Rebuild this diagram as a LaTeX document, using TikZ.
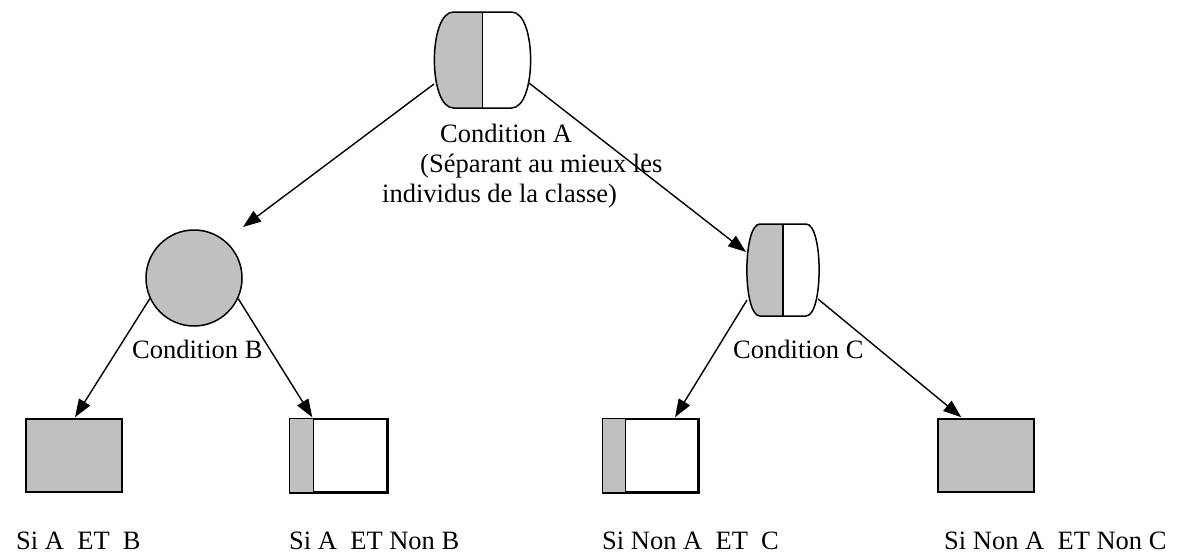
\documentclass[tikz,border=0pt]{standalone}
\usepackage{fontspec}
\setmainfont{Liberation Serif}
\usetikzlibrary{arrows.meta,calc}
\definecolor{cgray}{HTML}{C0C0C0}
\begin{document}
\begin{tikzpicture}[x=1pt,y=-1pt,
  lbl/.style={inner sep=0pt,anchor=base west,font=\fontsize{26.5}{30}\selectfont},
  holder/.style={draw=none,inner sep=0pt},
  outl/.style={line width=1.5pt},
  arr/.style={line width=1.4pt,-{Triangle[length=18pt,width=13pt]}},
  boxg/.style={draw,line width=1.5pt,fill=cgray,inner sep=0pt,minimum width=96pt,minimum height=73pt},
  boxw/.style={draw,line width=1.5pt,fill=white,inner sep=0pt,minimum width=96pt,minimum height=73pt}]
\useasboundingbox (0,0) rectangle (1183,554);

% ---- placeholder nodes
\node[holder,minimum width=97pt,minimum height=96pt] (A) at (482.5,60) {};
\node[holder,minimum width=72pt,minimum height=92pt] (C) at (783,270) {};
\node[circle,draw,outl,fill=cgray,minimum size=96pt,inner sep=0pt] (B) at (194,278) {};

% ---- barrel A
\fill[cgray] (482.5,12) -- (453.5,12) .. controls (428,12) and (428,108) .. (453.5,108) -- (482.5,108) -- cycle;
\draw[outl] (453.5,12) -- (511.5,12) .. controls (537,12) and (537,108) .. (511.5,108)
  -- (453.5,108) .. controls (428,108) and (428,12) .. (453.5,12) -- cycle;
\draw[outl] (A.north) -- (A.south);

% ---- barrel C
\fill[cgray] (783,224) -- (760,224) .. controls (742.5,224) and (742.5,316) .. (760,316) -- (783,316) -- cycle;
\draw[outl] (760,224) -- (806,224) .. controls (823.5,224) and (823.5,316) .. (806,316)
  -- (760,316) .. controls (742.5,316) and (742.5,224) .. (760,224) -- cycle;
\draw[outl] (C.north) -- (C.south);

% ---- leaf boxes
\node[boxg] (b1) at (74,455.5) {};
\node[boxw,minimum width=97pt] (b2) at (338.5,455.5) {};
\fill[cgray] (b2.north west) rectangle ($(b2.south west)+(24,0)$);
\draw[outl] (b2.north west) rectangle (b2.south east);
\draw[outl] ($(b2.north west)+(24,0)$) -- ($(b2.south west)+(24,0)$);
\node[boxw,minimum width=95pt] (b3) at (650.5,455.5) {};
\fill[cgray] (b3.north west) rectangle ($(b3.south west)+(23,0)$);
\draw[outl] (b3.north west) rectangle (b3.south east);
\draw[outl] ($(b3.north west)+(23,0)$) -- ($(b3.south west)+(23,0)$);
\node[boxg] (b4) at (986,455.5) {};

% ---- connectors
\draw[arr] ($(A.center)+(-48.5,24)$) -- ($(B.center)+(49,-51)$);
\draw[arr] ($(A.center)+(46.5,23)$) -- ($(C.center)+(-37,-18)$);
\draw[arr] (B.205) -- ($(b1.north)+(1,-1)$);
\draw[arr] (B.335) -- ($(b2.north west)+(23,-1)$);
\draw[arr] ($(C.center)+(-36,30)$) -- ($(b3.north)+(24.5,-1)$);
\draw[arr] ($(C.center)+(35,29)$) -- ($(b4.north west)+(24,-1)$);

% ---- labels
\node[lbl] (lA1) at (440,142) {Condition A};
\node[lbl] (lA2) at (420,172) {(Séparant au mieux les};
\node[lbl] (lA3) at (382,202) {individus de la classe)};
\node[lbl] (lB) at (132,358) {Condition B};
\node[lbl] (lC) at (733,358) {Condition C};
\node[lbl] (l1) at (16,549) {Si A\ \ ET\ \ B};
\node[lbl] (l2) at (289,549) {Si A\ \ ET Non B};
\node[lbl] (l3) at (602,549) {Si Non A\ \ ET\ \ C};
\node[lbl] (l4) at (944,549) {Si Non A\ \ ET Non C};
\end{tikzpicture}
\end{document}
